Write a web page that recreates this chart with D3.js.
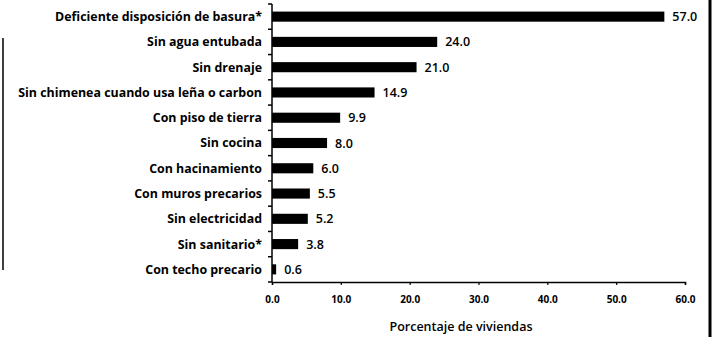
<!DOCTYPE html>
<html>
<head>
<meta charset="utf-8">
<script src="https://cdn.jsdelivr.net/npm/d3@7"></script>
<style>
  html, body { margin: 0; padding: 0; background: #fff; }
  svg { display: block; font-family: "Open Sans", "DejaVu Sans", sans-serif; }
</style>
</head>
<body>
<svg id="chart" width="716" height="337"></svg>
<script>
// Housing deficiency categories, top to bottom
const categories = [
  "Deficiente disposición de basura*",
  "Sin agua entubada",
  "Sin drenaje",
  "Sin chimenea cuando usa leña o carbon",
  "Con piso de tierra",
  "Sin cocina",
  "Con hacinamiento",
  "Con muros precarios",
  "Sin electricidad",
  "Sin sanitario*",
  "Con techo precario"
];
// Percentage of dwellings per category
const values = [57.0, 24.0, 21.0, 14.9, 9.9, 8.0, 6.0, 5.5, 5.2, 3.8, 0.6];
const xTicks = [0, 10, 20, 30, 40, 50, 60];
const xTitle = "Porcentaje de viviendas";

const svg = d3.select("#chart");
const plotLeft = 272, plotRight = 685, plotTop = 4, plotBottom = 282;

const x = d3.scaleLinear().domain([0, 60]).range([plotLeft, plotRight]);
const y = d3.scaleBand().domain(categories).range([plotTop, plotBottom]).paddingInner(0.6).paddingOuter(0.3);

// bars
svg.append("g").selectAll("rect")
  .data(values)
  .join("rect")
  .attr("x", x(0))
  .attr("y", (d, i) => y(categories[i]))
  .attr("width", d => x(d) - x(0))
  .attr("height", y.bandwidth())
  .attr("fill", "#000");

// value labels
svg.append("g").selectAll("text")
  .data(values)
  .join("text")
  .attr("x", d => x(d) + 8)
  .attr("y", (d, i) => y(categories[i]) + y.bandwidth() / 2)
  .attr("dy", "0.36em")
  .attr("font-size", 12.5)
  .attr("font-weight", 600)
  .attr("fill", "#000")
  .text(d => d.toFixed(1));

// category labels
svg.append("g").selectAll("text")
  .data(categories)
  .join("text")
  .attr("x", plotLeft - 10)
  .attr("y", d => y(d) + y.bandwidth() / 2)
  .attr("dy", "0.36em")
  .attr("text-anchor", "end")
  .attr("font-size", 12.4)
  .attr("font-weight", 700)
  .attr("fill", "#000")
  .text(d => d);

// vertical axis with ticks at band boundaries
const yAxis = svg.append("g");
yAxis.append("line")
  .attr("x1", plotLeft).attr("x2", plotLeft)
  .attr("y1", plotTop).attr("y2", plotBottom)
  .attr("stroke", "#000").attr("stroke-width", 1.5);
yAxis.selectAll("line.tick")
  .data(d3.range(categories.length + 1))
  .join("line")
  .attr("class", "tick")
  .attr("x1", plotLeft - 4).attr("x2", plotLeft)
  .attr("y1", i => plotTop + i * (plotBottom - plotTop) / categories.length)
  .attr("y2", i => plotTop + i * (plotBottom - plotTop) / categories.length)
  .attr("stroke", "#000").attr("stroke-width", 1.5);

// horizontal axis
const xAxis = svg.append("g")
  .attr("transform", `translate(0,${plotBottom})`)
  .call(d3.axisBottom(x).tickValues(xTicks).tickSize(3).tickPadding(11).tickFormat(d3.format(".1f")));
xAxis.select(".domain").attr("stroke-width", 1.5);
xAxis.selectAll("line").attr("stroke-width", 1.2);
xAxis.selectAll("text")
  .attr("font-family", "\"Open Sans\", sans-serif")
  .attr("font-size", 10)
  .attr("font-weight", 700)
  .attr("fill", "#000");

// axis title
svg.append("text")
  .attr("x", 461)
  .attr("y", 331)
  .attr("text-anchor", "middle")
  .attr("font-size", 12.5)
  .attr("font-weight", 600)
  .attr("fill", "#000")
  .text(xTitle);

// page frame edges
svg.append("line")
  .attr("x1", 710).attr("x2", 710).attr("y1", 0).attr("y2", 337)
  .attr("stroke", "#000").attr("stroke-width", 3);
svg.append("line")
  .attr("x1", 3).attr("x2", 3).attr("y1", 38).attr("y2", 270)
  .attr("stroke", "#000").attr("stroke-width", 1.5);
</script>
</body>
</html>
